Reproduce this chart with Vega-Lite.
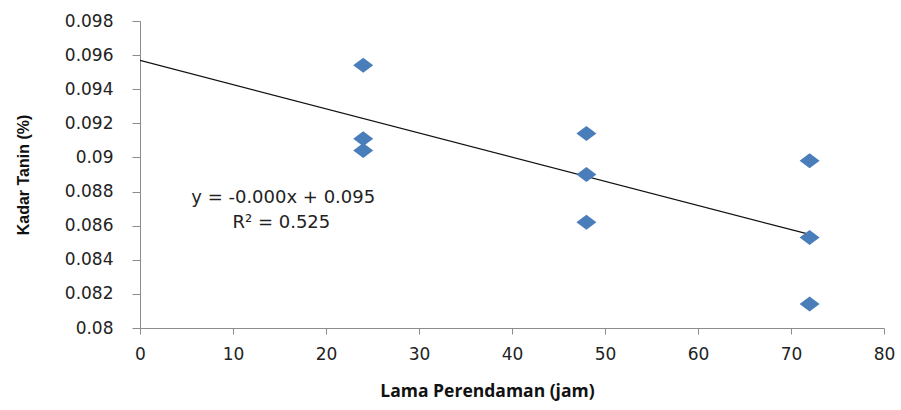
{
  "$schema": "https://vega.github.io/schema/vega-lite/v6.json",
  "width": 744,
  "height": 307,
  "autosize": {"type": "none"},
  "padding": {"left": 140, "top": 21, "right": 17, "bottom": 82},
  "background": "white",
  "config": {
    "view": {"stroke": null},
    "axis": {"grid": false, "domainColor": "#8c8c8c", "tickColor": "#8c8c8c", "labelColor": "#222", "titleColor": "#111", "labelFont": "DejaVu Sans", "labelFontSize": 17, "labelFontWeight": "normal", "labelOverlap": false, "labelFlush": false}
  },
  "datasets": {
    "obs": [
      {"jam": 24, "tanin": 0.0954},
      {"jam": 24, "tanin": 0.0911},
      {"jam": 24, "tanin": 0.0904},
      {"jam": 48, "tanin": 0.0914},
      {"jam": 48, "tanin": 0.0890},
      {"jam": 48, "tanin": 0.0862},
      {"jam": 72, "tanin": 0.0898},
      {"jam": 72, "tanin": 0.0853},
      {"jam": 72, "tanin": 0.0814}
    ],
    "notes": [
      {"jam": 15.4, "tanin": 0.08765, "label": "y = -0.000x + 0.095"},
      {"jam": 15.2, "tanin": 0.08613, "label": "R² = 0.525"}
    ]
  },
  "layer": [
    {
      "data": {"name": "obs"},
      "transform": [{"regression": "tanin", "on": "jam", "extent": [0, 72]}],
      "mark": {"type": "line", "color": "#111", "strokeWidth": 1.2, "clip": true},
      "encoding": {
        "x": {"field": "jam", "type": "quantitative", "scale": {"domain": [0, 80], "nice": false}},
        "y": {"field": "tanin", "type": "quantitative", "scale": {"domain": [0.08, 0.098], "nice": false, "zero": false}}
      }
    },
    {
      "data": {"name": "obs"},
      "mark": {"type": "point", "shape": "M-1,0L0,-0.75L1,0L0,0.75Z", "filled": true, "color": "#4A7EBB", "opacity": 1, "size": 400},
      "encoding": {
        "x": {
          "field": "jam", "type": "quantitative",
          "scale": {"domain": [0, 80], "nice": false},
          "axis": {"values": [0, 10, 20, 30, 40, 50, 60, 70, 80], "tickCount": 20, "tickSize": 6, "labelPadding": 12, "title": "Lama Perendaman (jam)", "titleFont": "Open Sans", "titleFontSize": 17.5, "titleFontWeight": "bold", "titlePadding": 20, "titleX": 347, "titleAlign": "center"}
        },
        "y": {
          "field": "tanin", "type": "quantitative",
          "scale": {"domain": [0.08, 0.098], "nice": false, "zero": false},
          "axis": {"values": [0.08, 0.082, 0.084, 0.086, 0.088, 0.09, 0.092, 0.094, 0.096, 0.098], "tickCount": 20, "format": "~g", "tickSize": 8, "labelPadding": 19, "title": "Kadar Tanin (%)", "titleFont": "Liberation Sans", "titleFontSize": 16, "titleFontWeight": "bold", "titlePadding": 33}
        }
      }
    },
    {
      "data": {"name": "notes"},
      "mark": {"type": "text", "font": "DejaVu Sans", "fontSize": 18, "color": "#222", "align": "center", "baseline": "middle"},
      "encoding": {
        "x": {"field": "jam", "type": "quantitative"},
        "y": {"field": "tanin", "type": "quantitative"},
        "text": {"field": "label"}
      }
    }
  ]
}
